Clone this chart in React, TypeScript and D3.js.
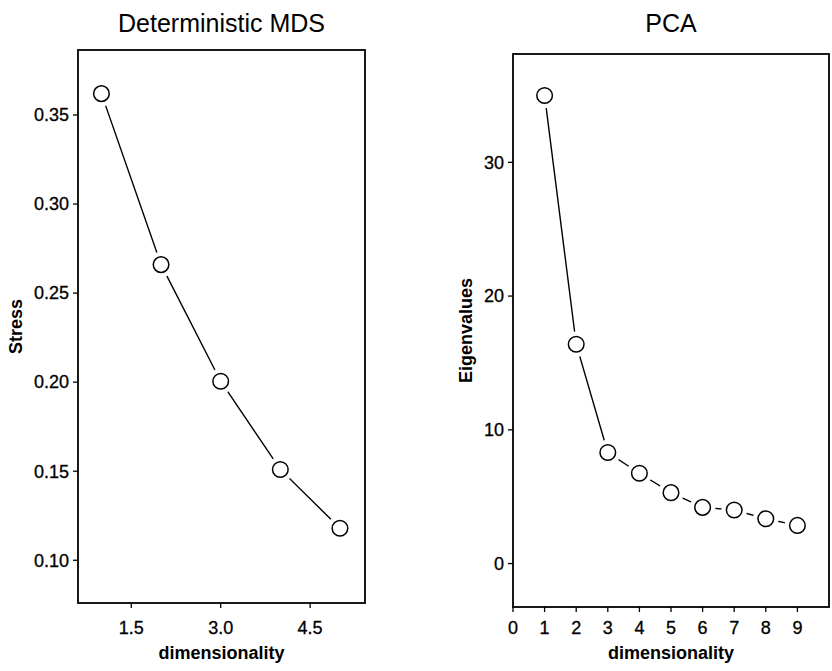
import React from 'react';
import { scaleLinear, line } from 'd3';

// left panel: stress of deterministic MDS by dimensionality
const mdsDims = [1, 2, 3, 4, 5];
const mdsStress = [0.362, 0.266, 0.2005, 0.151, 0.118];
const mdsYTicks = [0.1, 0.15, 0.2, 0.25, 0.3, 0.35];
const mdsXTicks = [1.5, 3.0, 4.5];

// right panel: PCA eigenvalues
const pcaDims = [1, 2, 3, 4, 5, 6, 7, 8, 9];
const pcaEigen = [35.0, 16.4, 8.3, 6.75, 5.3, 4.2, 4.0, 3.35, 2.85];
const pcaYTicks = [0, 10, 20, 30];
const pcaXTicks = [0, 1, 2, 3, 4, 5, 6, 7, 8, 9];

const FONT = '"Liberation Sans", Arial, Helvetica, sans-serif';

type PanelProps = {
  title: string;
  yLabel: string;
  xs: number[];
  ys: number[];
  xDomain: [number, number];
  yDomain: [number, number];
  xTicks: number[];
  yTicks: number[];
  xFmt: (v: number) => string;
  yFmt: (v: number) => string;
  left: number;
  right: number;
  top: number;
  bottom: number;
  yLabelX: number;
};

function Panel(p: PanelProps) {
  const x = scaleLinear().domain(p.xDomain).range([p.left, p.right]);
  const y = scaleLinear().domain(p.yDomain).range([p.bottom, p.top]);
  const pts = p.xs.map((d, i) => [x(d), y(p.ys[i])] as [number, number]);
  const path = line()(pts) || '';
  const cx = (p.left + p.right) / 2;
  const cy = (p.top + p.bottom) / 2;
  const r = 7.8;

  return (
    <g fontFamily={FONT} fill="#000">
      <text x={cx} y={32} textAnchor="middle" fontSize={25}>{p.title}</text>
      <rect x={p.left} y={p.top} width={p.right - p.left} height={p.bottom - p.top}
        fill="none" stroke="#000" strokeWidth={1.8} />

      {/* y axis */}
      {p.yTicks.map(t => (
        <g key={'y' + t}>
          <line x1={p.left - 5} x2={p.left} y1={y(t)} y2={y(t)} stroke="#000" strokeWidth={1.3} />
          <text x={p.left - 9} y={y(t)} dy="0.35em" textAnchor="end" fontSize={18}
            stroke="#000" strokeWidth={0.3}>{p.yFmt(t)}</text>
        </g>
      ))}
      <text transform={`translate(${p.yLabelX},${cy}) rotate(-90)`} textAnchor="middle"
        fontSize={18} fontWeight="bold">{p.yLabel}</text>

      {/* x axis */}
      {p.xTicks.map(t => (
        <g key={'x' + t}>
          <line x1={x(t)} x2={x(t)} y1={p.bottom} y2={p.bottom + 5} stroke="#000" strokeWidth={1.3} />
          <text x={x(t)} y={634} textAnchor="middle" fontSize={18}
            stroke="#000" strokeWidth={0.3}>{p.xFmt(t)}</text>
        </g>
      ))}
      <text x={cx} y={659} textAnchor="middle" fontSize={18} fontWeight="bold">dimensionality</text>

      {/* data */}
      <path d={path} fill="none" stroke="#000" strokeWidth={1.4} />
      {pts.map((d, i) => (
        <circle key={'h' + i} cx={d[0]} cy={d[1]} r={r + 5} fill="#fff" />
      ))}
      {pts.map((d, i) => (
        <circle key={'c' + i} cx={d[0]} cy={d[1]} r={r} fill="#fff" stroke="#000" strokeWidth={1.5} />
      ))}
    </g>
  );
}

export default function App() {
  return (
    <svg width={832} height={671} style={{ position: 'absolute', left: 0, top: 0, background: '#fff' }}>
      <rect width={832} height={671} fill="#fff" />
      <Panel
        title="Deterministic MDS"
        yLabel="Stress"
        xs={mdsDims}
        ys={mdsStress}
        xDomain={[0.607, 5.42]}
        yDomain={[0.076, 0.3865]}
        xTicks={mdsXTicks}
        yTicks={mdsYTicks}
        xFmt={v => v.toFixed(1)}
        yFmt={v => v.toFixed(2)}
        left={78}
        right={365}
        top={50}
        bottom={603}
        yLabelX={22}
      />
      <Panel
        title="PCA"
        yLabel="Eigenvalues"
        xs={pcaDims}
        ys={pcaEigen}
        xDomain={[0, 10]}
        yDomain={[-3.25, 38.1]}
        xTicks={pcaXTicks}
        yTicks={pcaYTicks}
        xFmt={v => String(v)}
        yFmt={v => String(v)}
        left={513}
        right={829}
        top={54}
        bottom={607}
        yLabelX={472}
      />
    </svg>
  );
}
